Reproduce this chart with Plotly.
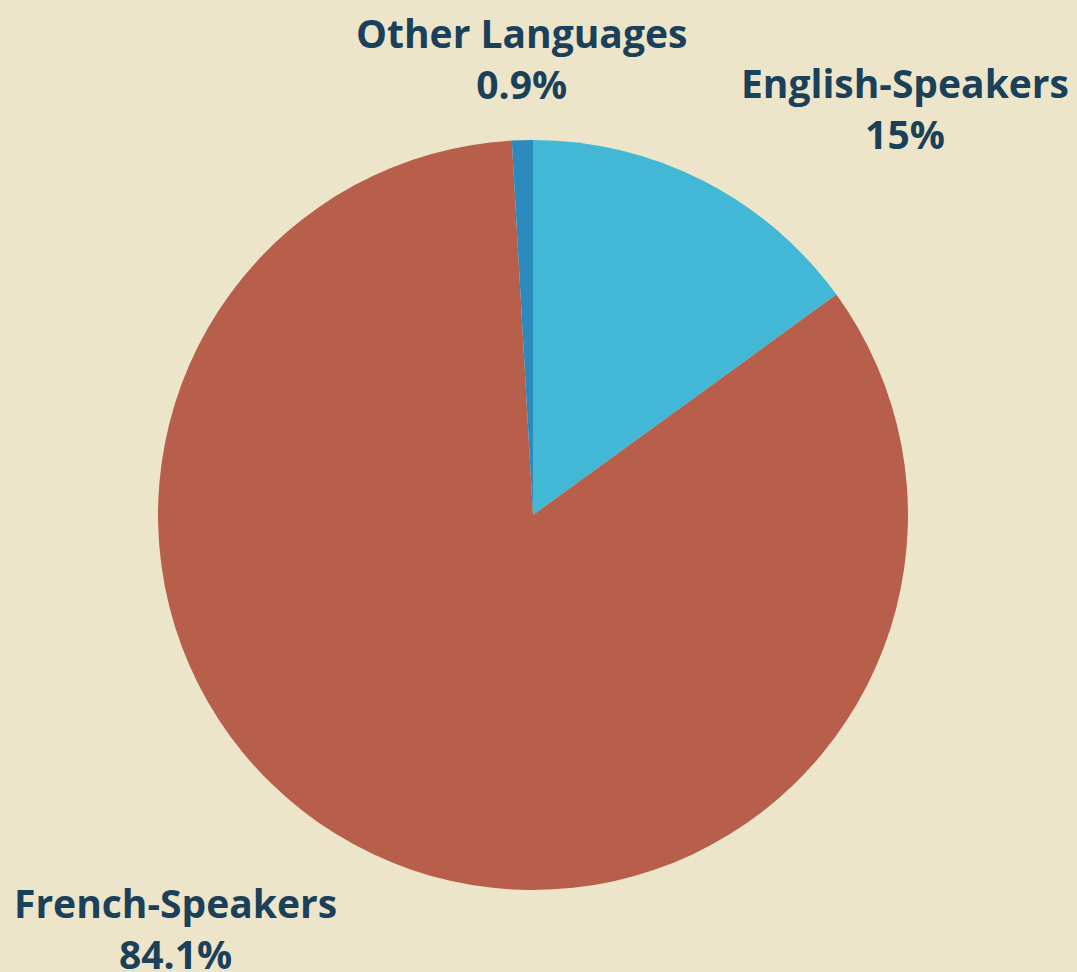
import plotly.graph_objects as go

labels = ["English-Speakers", "French-Speakers", "Other Languages"]
values = [15.0, 84.1, 0.9]
colors = ["#42B7D6", "#B75F4B", "#2B8BBF"]
label_text = ["English-Speakers<br>15%", "French-Speakers<br>84.1%", "Other Languages<br>0.9%"]

W, H = 1077, 972
bg = "#ECE5C9"
txt = "#1B405A"

fig = go.Figure(go.Pie(
    labels=labels, values=values, sort=False, direction="clockwise", rotation=0,
    marker=dict(colors=colors, line=dict(width=0)),
    textinfo="none", hoverinfo="label+percent",
    domain=dict(x=[158 / W, 908 / W], y=[(H - 890) / H, (H - 140) / H]),
    showlegend=False,
))

# label positions (paper coords)
pos = {
    "English-Speakers": (905 / W, 1 - 108 / H),
    "French-Speakers": (175 / W, 1 - 928 / H),
    "Other Languages": (521 / W, 1 - 58 / H),
}
for lab, t in zip(labels, label_text):
    x, y = pos[lab]
    fig.add_annotation(x=x, y=y, xref="paper", yref="paper", text=t, showarrow=False,
                       xanchor="center", yanchor="middle", align="center",
                       font=dict(family="Open Sans", size=39, color=txt, weight="bold"))

fig.update_layout(width=W, height=H, margin=dict(l=0, r=0, t=0, b=0),
                  paper_bgcolor=bg, plot_bgcolor=bg)
fig.write_html("out.html", config={"displayModeBar": False},
               post_script="document.body.style.margin='0';document.body.style.overflow='hidden';document.body.style.background='#ECE5C9';")
